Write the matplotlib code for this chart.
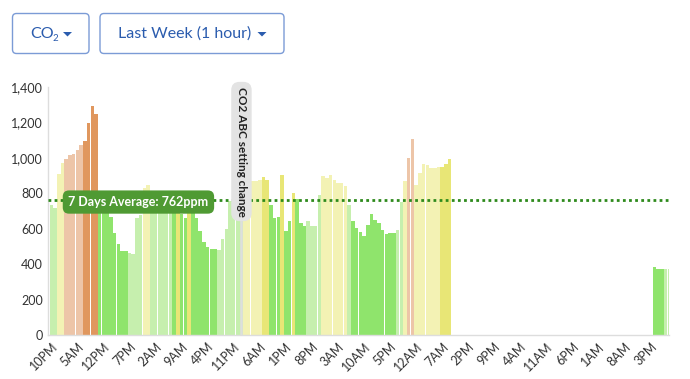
import matplotlib
matplotlib.use("Agg")
import matplotlib.pyplot as plt
from matplotlib.patches import FancyBboxPatch, Polygon
import numpy as np

plt.rcParams['font.family'] = ['Lato', 'DejaVu Sans']

# hourly CO2 readings (ppm), None = no data
co2 = [835, 735, 716, 906, 970, 992, 1013, 1022, 1041, 1073,
       1092, 1197, 1294, 1248, 750, 740, 720, 666, 576, 515,
       476, 474, 462, 458, 658, 675, 828, 845, 770, 770,
       770, 770, 770, 765, 705, 700, 685, 658, 695, 700,
       660, 585, 525, 495, 487, 485, 480, 540, 600, 755,
       790, 790, 790, 858, 866, 868, 870, 872, 890, 872,
       733, 660, 668, 904, 585, 641, 803, 765, 634, 613,
       641, 613, 613, 792, 895, 885, 900, 877, 859, 859,
       840, 731, 641, 604, 580, 559, 623, 681, 651, 634,
       591, 572, 576, 578, 595, 750, 867, 998, 1103, 848,
       913, 966, 957, 942, 942, 948, 948, 962, 990] + [None] * 54 + [385, 372, 372, 371, 371]

# colour class of each bar
cls = ("py lg lg py py pe pe pe pe pe or or or or g g g g g g "
       "g g lg lg lg lg py py lg lg lg lg lg lg g y g g y g "
       "g g g g g g lg lg lg lg lg lg lg py py py py py y y "
       "g g g y g g y g g g lg lg lg lg py py py py py py "
       "py lg g g g g g g g g g g g g lg lg py pe pe py "
       "py py py py py py y y y").split() + ["g"] * 54 + ["g", "g", "g", "lg", "lg"]

palette = {"lg": "#c6efae", "g": "#8fe46c", "py": "#f3f2b4",
           "y": "#e8e676", "pe": "#edc5a8", "or": "#e0975e"}

tick_labels = ["10PM", "5AM", "12PM", "7PM", "2AM", "9AM", "4PM", "11PM",
               "6AM", "1PM", "8PM", "3AM", "10AM", "5PM", "12AM", "7AM",
               "2PM", "9PM", "4AM", "11AM", "6PM", "1AM", "8AM", "3PM"]

average = 762
abc_change_hour = 52.07

fig = plt.figure(figsize=(6.9, 3.79), dpi=100)

# top buttons (pixel overlay)
over = fig.add_axes([0, 0, 1, 1])
over.set_xlim(0, 690)
over.set_ylim(379, 0)
over.set_axis_off()
btn_col = "#2b5cae"
for x0, x1 in [(12.5, 89), (100, 284)]:
    over.add_patch(FancyBboxPatch((x0, 13.5), x1 - x0, 40,
                                  boxstyle="round,pad=0,rounding_size=4",
                                  fc="white", ec="#7b9bd6", lw=1.0))
co = over.text(30, 34, "CO", color=btn_col, fontsize=11.5, va="center", ha="left")
over.text(118, 34, "Last Week (1 hour)", color=btn_col, fontsize=11.5,
          va="center", ha="left")
r = fig.canvas.get_renderer()
bb = co.get_window_extent(r)
x_end = over.transData.inverted().transform((bb.x1, bb.y0))[0]
over.text(x_end - 1.5, 38.5, "2", color=btn_col, fontsize=7, va="center", ha="left")
for cx in [67.5, 262]:
    over.add_patch(Polygon([[cx - 4.5, 32], [cx + 4.5, 32], [cx, 36.5]],
                           closed=True, fc=btn_col, ec="none"))

ax = fig.add_axes([0.069, 0.116, 0.901, 0.655])
x = np.arange(len(co2))
vals = np.array([np.nan if v is None else v for v in co2], dtype=float)
colors = [palette[c] for c in cls]
ax.bar(x, np.nan_to_num(vals), width=0.94, color=colors, linewidth=0, zorder=2)

ax.set_xlim(0, len(co2) - 1)
ax.set_ylim(0, 1400)
ax.set_yticks(range(0, 1401, 200))
ax.set_yticklabels([f"{v:,}" for v in range(0, 1401, 200)])
ax.set_xticks(np.arange(1, 1 + 7 * len(tick_labels), 7))
ax.set_xticklabels(tick_labels, rotation=45, ha="right", rotation_mode="anchor")
ax.tick_params(axis="both", length=0, labelsize=9, colors="#333333")
ax.tick_params(axis="x", pad=4)
ax.tick_params(axis="y", pad=3.5)
for s in ["top", "right"]:
    ax.spines[s].set_visible(False)
for s in ["left", "bottom"]:
    ax.spines[s].set_color("#dddddd")
    ax.spines[s].set_linewidth(1)

# average line + label
ax.axhline(average, color="#2e8a1c", lw=2, ls=(0, (1, 1.2)), zorder=3)
ax.text(24.4, average - 12, "7 Days Average: %dppm" % average, color="white",
        fontsize=9, fontweight="bold", ha="center", va="center", zorder=5,
        bbox=dict(boxstyle="round,pad=0.45,rounding_size=0.5", fc="#4f9a33", ec="none"))

# annotation
ax.axvline(abc_change_hour, color="#dedede", lw=1.8, zorder=4)
ax.text(abc_change_hour, 1035, "CO2 ABC setting change", rotation=270,
        fontsize=8.5, fontweight="bold", color="#222222", ha="center", va="center",
        zorder=6, clip_on=False,
        bbox=dict(boxstyle="round,pad=0.4,rounding_size=0.7", fc="#e3e3e3", ec="none"))

fig.savefig("out.png", dpi=100)
